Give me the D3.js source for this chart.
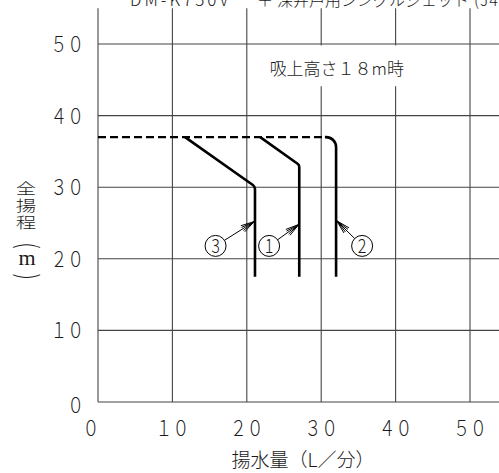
<!DOCTYPE html>
<html>
<head>
<meta charset="utf-8">
<script src="https://cdn.jsdelivr.net/npm/d3@7"></script>
<style>
  body { margin: 0; background: #fff; overflow: hidden; }
  text { font-family: "Noto Sans CJK JP", "DejaVu Sans", sans-serif; font-weight: 300; fill: #1a1a1a; }
</style>
</head>
<body>
<svg id="chart"></svg>
<script>
// Data (flow L/min, total head m)
const xTicks = [0, 10, 20, 30, 40, 50];
const yTicks = [0, 10, 20, 30, 40, 50];
const xTickLabels = ['０', '１０', '２０', '３０', '４０', '５０'];
const yTickLabels = ['０', '１０', '２０', '３０', '４０', '５０'];

const sharedDashed = [[0, 37], [30.5, 37]];
const curve1 = [[21.8, 37], [27.05, 33.1], [27.05, 17.5]];
const curve2 = [[30.5, 37], [32, 37], [32, 17.5]];
const curve3 = [[11.7, 37], [21.1, 30.1], [21.1, 17.5]];

const curveLabels = ['1', '2', '3'];
const labelPos = [[23.0, 21.8], [35.5, 21.8], [15.8, 21.8]];
const arrowTips = [[27.0, 24.8], [32.1, 25.3], [21.0, 25.2]];

const titleParts = ['DM-K750V', '＋', '深井戸用シングルジェット', '(J40)'];
const noteText = '吸上高さ１８m時';
const xTitle = '揚水量（L／分）';
const yTitleChars = ['全', '揚', '程'];
const yTitleUnit = 'm';

const config = {
  width: 499, height: 473,
  margin: {top: 9, left: 98}
};

const svg = d3.select('#chart')
    .attr('width', config.width)
    .attr('height', config.height);

// scales: 10 units = ~74.4px in x, ~71.6px in y
const xScale = d3.scaleLinear().domain([0, 50]).range([98, 470]);
const yScale = d3.scaleLinear().domain([0, 50]).range([402, 44]);
const yTop = 55, xRight = 54;

// grid
const grid = svg.append('g').attr('stroke', '#444').attr('stroke-width', 1.1);
grid.selectAll('.vline')
    .data(xTicks)
    .join('line')
    .attr('x1', d => xScale(d)).attr('x2', d => xScale(d))
    .attr('y1', yScale(yTop)).attr('y2', yScale(0));
grid.selectAll('.hline')
    .data(yTicks)
    .join('line')
    .attr('x1', xScale(0)).attr('x2', xScale(xRight))
    .attr('y1', d => yScale(d)).attr('y2', d => yScale(d));

// white box behind the note (covers vertical grid lines only)
svg.append('rect')
    .attr('x', xScale(23.5)).attr('y', yScale(49.8))
    .attr('width', xScale(43) - xScale(23.5))
    .attr('height', yScale(44.1) - yScale(49.8))
    .attr('fill', '#fff');

svg.append('text')
    .attr('x', xScale(32.1)).attr('y', yScale(46.5))
    .attr('dy', '0.35em')
    .attr('text-anchor', 'middle')
    .attr('font-size', 17)
    .text(noteText);

// tick labels, narrow CAD-like digits
svg.selectAll('.xtick')
    .data(xTicks)
    .join('text')
    .attr('transform', (d, i) => `translate(${xScale(d) + (i === 0 ? -7 : 0)},436) scale(0.8,1)`)
    .attr('text-anchor', 'middle')
    .attr('font-size', 21)
    .text((d, i) => xTickLabels[i]);

svg.selectAll('.ytick')
    .data(yTicks)
    .join('text')
    .attr('transform', (d, i) => `translate(84,${yScale(d) + (i === 0 ? 11 : 8)}) scale(0.8,1)`)
    .attr('text-anchor', 'end')
    .attr('font-size', 21)
    .text((d, i) => yTickLabels[i]);

// axis titles
svg.append('text')
    .attr('x', 303).attr('y', 467)
    .attr('text-anchor', 'middle')
    .attr('font-size', 19)
    .text(xTitle);

// vertical y title: wide, slightly flattened characters
svg.selectAll('.ytitle')
    .data(yTitleChars)
    .join('text')
    .attr('transform', (d, i) => `translate(26,${194 + i * 17}) scale(1.2,0.9)`)
    .attr('text-anchor', 'middle')
    .attr('font-size', 17)
    .text(d => d);

// "(m)" written vertically: rotated, flattened parentheses around an upright m
[['(', 246], [')', 276]].forEach(([ch, y]) => {
  svg.append('text')
      .attr('transform', `translate(27,${y}) rotate(90) scale(0.7,1)`)
      .attr('text-anchor', 'middle')
      .attr('dominant-baseline', 'central')
      .style('font-family', 'DejaVu Sans')
      .style('font-weight', 200)
      .attr('font-size', 30)
      .text(ch);
});
svg.append('text')
    .attr('transform', 'translate(27,265) scale(1.1,1)')
    .attr('text-anchor', 'middle')
    .style('font-family', '"Liberation Serif", "DejaVu Serif", serif')
    .style('font-weight', 400)
    .attr('font-size', 20)
    .text(yTitleUnit);

// title, cut off by the top edge as in the source
const t = svg.append('text')
    .attr('y', 6)
    .attr('font-size', 16);
t.append('tspan').attr('x', 130).attr('font-size', 17).attr('letter-spacing', 3).text(titleParts[0]);
t.append('tspan').attr('x', 257).text(titleParts[1]);
t.append('tspan').attr('x', 277).text(titleParts[2]);
t.append('tspan').attr('x', 474).attr('letter-spacing', 1).text(titleParts[3]);

// polyline with rounded corners through scaled points
function roundedPath(points, r) {
  const p = d3.path();
  const pts = points.map(d => [xScale(d[0]), yScale(d[1])]);
  p.moveTo(pts[0][0], pts[0][1]);
  for (let i = 1; i < pts.length - 1; i++) {
    p.arcTo(pts[i][0], pts[i][1], pts[i + 1][0], pts[i + 1][1], r);
  }
  p.lineTo(pts[pts.length - 1][0], pts[pts.length - 1][1]);
  return p.toString();
}

svg.append('path')
    .attr('d', roundedPath(sharedDashed, 0))
    .attr('fill', 'none').attr('stroke', '#000')
    .attr('stroke-width', 2.2).attr('stroke-dasharray', '8,4');

[[curve1, 4], [curve2, 10], [curve3, 5]].forEach(([c, r]) => {
  svg.append('path')
      .attr('d', roundedPath(c, r))
      .attr('fill', 'none').attr('stroke', '#000')
      .attr('stroke-width', 2.6);
});

// circled labels with arrow leaders
const rad = 10.5;
curveLabels.forEach((lab, i) => {
  const cx = xScale(labelPos[i][0]), cy = yScale(labelPos[i][1]);
  const tx = xScale(arrowTips[i][0]), ty = yScale(arrowTips[i][1]);
  const ang = Math.atan2(ty - cy, tx - cx);
  const g = svg.append('g').attr('stroke', '#000').attr('fill', 'none').attr('stroke-width', 1);
  g.append('circle').attr('cx', cx).attr('cy', cy).attr('r', rad);
  g.append('line')
      .attr('x1', cx + rad * Math.cos(ang)).attr('y1', cy + rad * Math.sin(ang))
      .attr('x2', tx).attr('y2', ty);
  [-0.26, -0.13, 0.13, 0.26].forEach(a => {
    g.append('line')
        .attr('x1', tx).attr('y1', ty)
        .attr('x2', tx - 14 * Math.cos(ang + a))
        .attr('y2', ty - 14 * Math.sin(ang + a));
  });
  svg.append('text')
      .attr('transform', `translate(${cx},${cy + 7}) scale(0.85,1)`)
      .attr('text-anchor', 'middle')
      .attr('font-size', 19)
      .text(lab);
});
</script>
</body>
</html>
